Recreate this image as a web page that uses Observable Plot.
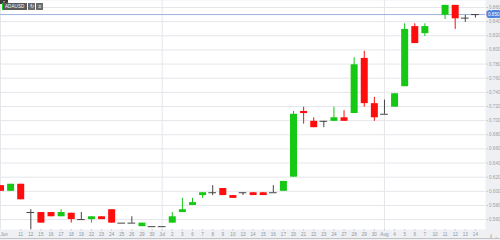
<!DOCTYPE html>
<html>
<head>
<meta charset="utf-8">
<script src="https://cdn.jsdelivr.net/npm/d3@7"></script>
<script src="https://cdn.jsdelivr.net/npm/@observablehq/plot@0.6"></script>
<style>
  html, body { margin: 0; padding: 0; background: #fff; }
  #wrap { position: relative; width: 500px; height: 240px; overflow: hidden; font-family: "Liberation Sans", Arial, sans-serif; }
  #wrap svg { display: block; }
  #legend { position: absolute; left: 2px; top: 3px; display: flex; gap: 1px; align-items: stretch; height: 7px; }
  #legend .sym { background: #5a5a5a; color: #fff; font-size: 4.5px; line-height: 7px; padding: 0 3px 0 2px; border-left: 1.5px solid #1ec81e; letter-spacing: 0.1px; }
  #legend .btn { background: #6a6a6a; color: #fff; width: 7px; font-size: 5px; line-height: 7px; text-align: center; }
  #corner { position: absolute; left: 0; top: 0; width: 8px; height: 4px; background: #3a3a3a; color: #fff; font-size: 4px; line-height: 4px; text-align: center; border-bottom-right-radius: 2px; }
  #bottomline { position: absolute; left: 0; top: 238px; width: 500px; height: 1px; background: #c4c4c4; }
</style>
</head>
<body>
<div id="wrap">
  <div id="chart"></div>
  <div id="corner">×</div>
  <div id="legend"><div class="sym">ADAUSD</div><div class="btn">↻</div><div class="btn">≡</div></div>
  <div id="bottomline"></div>
</div>
<script>
// Trading days (tick labels), Jun 9 – Aug 14
const days = ["Jun","","11","12","15","16","17","18","19","22","23","24","25","26","29","30",
  "Jul","2","3","6","7","8","9","10","13","14","15","16","17","20","21","22","23","24","27","28","29","30",
  "Aug","4","5","6","7","10","11","12","13","14"];
const open  = [0.608,0.600,0.610,0.570,0.570,0.570,0.564,0.569,0.560,0.560,0.564,0.574,0.555,0.555,0.550,0.550,
  0.550,0.555,0.570,0.580,0.594,0.598,0.604,0.594,0.598,0.598,0.598,0.598,0.600,0.620,0.713,0.699,0.699,0.699,0.704,0.710,0.788,0.724,
  0.709,0.719,0.748,0.833,0.823,null,0.849,0.863,0.845,0.850];
const high  = [0.608,0.610,0.610,0.574,0.570,0.570,0.574,0.569,0.570,0.564,0.564,0.574,0.555,0.564,0.555,0.550,
  0.550,0.570,0.590,0.590,0.598,0.608,0.604,0.594,0.598,0.598,0.598,0.608,0.614,0.713,0.719,0.704,0.699,0.719,0.714,0.789,0.798,0.733,
  0.729,0.738,0.837,0.837,0.837,null,0.863,0.863,0.849,0.850];
const low   = [0.600,0.600,0.588,0.546,0.555,0.564,0.564,0.555,0.559,0.555,0.560,0.555,0.555,0.555,0.550,0.550,
  0.550,0.555,0.570,0.580,0.590,0.594,0.594,0.590,0.594,0.594,0.594,0.598,0.600,0.620,0.695,0.690,0.690,0.699,0.699,0.710,0.719,0.699,
  0.709,0.719,0.748,0.809,0.819,null,0.843,0.829,0.839,0.845];
const close = [0.600,0.610,0.588,0.570,0.555,0.564,0.570,0.560,0.560,0.564,0.560,0.555,0.555,0.555,0.555,0.550,
  0.550,0.564,0.574,0.584,0.598,0.598,0.594,0.590,0.598,0.594,0.594,0.598,0.614,0.709,0.710,0.690,0.699,0.704,0.699,0.779,0.724,0.704,
  0.709,0.738,0.829,0.809,0.833,null,0.863,0.844,0.845,0.850];
const yTicks = [0.56,0.58,0.60,0.62,0.64,0.66,0.68,0.70,0.72,0.74,0.76,0.78,0.80,0.82,0.84,0.86];

const UP = "#14c814", DOWN = "#ff0d0d", FLAT = "#444444";
const data = days.map((d, i) => ({i, day: d, o: open[i], h: high[i], l: low[i], c: close[i]}))
  .filter(d => d.o != null);
const color = d => d.c > d.o ? UP : d.c < d.o ? DOWN : FLAT;
const bodies = data.filter(d => d.c !== d.o);
const dojis = data.filter(d => d.c === d.o);
const last = data[data.length - 1].c;
const labelIdx = days.map((d, i) => i).filter(i => days[i] !== "" && i > 0);
const fmt = d3.format(".3f");

const chart = Plot.plot({
  width: 500, height: 240,
  marginLeft: 0, marginRight: 15, marginTop: 0, marginBottom: 11,
  style: {background: "#eef0f4", fontFamily: "Liberation Sans, Arial, sans-serif", fontSize: "5px"},
  x: {domain: [0, days.length], axis: null},
  y: {domain: [0.546, 0.8699], axis: null},
  marks: [
    Plot.frame({fill: "#ffffff", stroke: null}),
    Plot.gridY(yTicks, {stroke: "#e4e6ea", strokeOpacity: 1}),
    Plot.gridX(days.map((d, i) => i).filter(i => ["Jun", "Jul", "Aug"].includes(days[i])), {stroke: "#e4e6ea", strokeOpacity: 1}),
    Plot.ruleY([last], {stroke: "#9db3dc", strokeWidth: 1}),
    Plot.ruleX(data, {x: "i", y1: "l", y2: "h", stroke: color, strokeWidth: 1}),
    Plot.ruleX(bodies, {x: "i", y1: "o", y2: "c", stroke: color, strokeWidth: 7}),
    Plot.ruleY(dojis, {y: "c", x1: d => d.i - 0.38, x2: d => d.i + 0.38, stroke: color, strokeWidth: 1}),
    Plot.axisY(yTicks, {anchor: "right", tickSize: 2, tickPadding: 1.5, stroke: "#c8cbd0", fill: "#9a9da3", tickFormat: fmt, fontSize: 4.6}),
    Plot.axisX(labelIdx, {anchor: "bottom", tickSize: 1.5, tickPadding: 2, stroke: "#c8cbd0", fill: "#8f9298", tickFormat: i => days[i], fontSize: 4.6}),
    Plot.axisX([0], {anchor: "bottom", tickSize: 0, tickPadding: 3.5, fill: "#8f9298", tickFormat: i => days[i], textAnchor: "start", fontSize: 4.6}),
    Plot.text([last], {y: d => d, frameAnchor: "right", textAnchor: "end", dx: 14, text: d => fmt(d), fill: "#ffffff", stroke: "#4f84dc", strokeWidth: 4, strokeLinejoin: "miter", fontSize: 4.6})
  ]
});
document.getElementById("chart").appendChild(chart);
</script>
</body>
</html>
